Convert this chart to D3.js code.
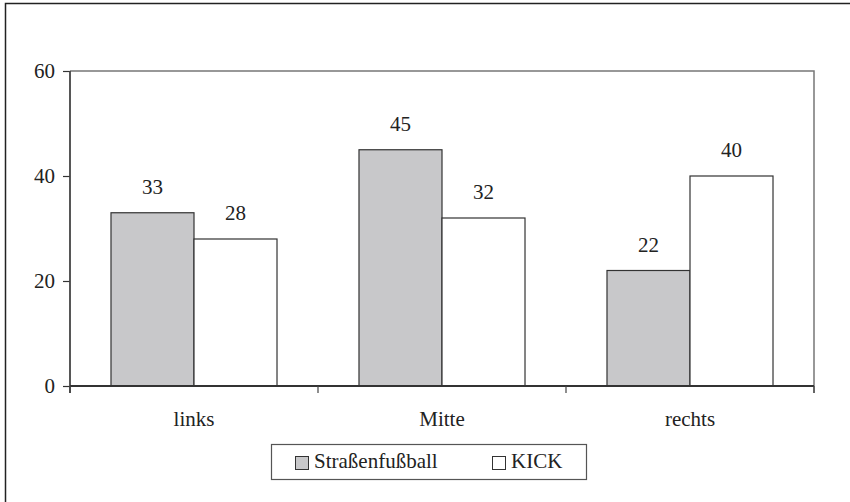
<!DOCTYPE html>
<html>
<head>
<meta charset="utf-8">
<script src="https://cdn.jsdelivr.net/npm/d3@7"></script>
<style>
  html, body { margin: 0; padding: 0; background: #fff; }
  svg { display: block; }
  svg text { fill: #222; }
</style>
</head>
<body>
<svg id="chart" width="850" height="502"></svg>
<script>
// Position categories and the two programmes compared
const categories = ["links", "Mitte", "rechts"];
const seriesNames = ["Straßenfußball", "KICK"];
const strassenfussball = [33, 45, 22];
const kick = [28, 32, 40];
const yTicks = [0, 20, 40, 60];

const seriesValues = [strassenfussball, kick];
const fills = ["#c8c8ca", "#ffffff"];
const FONT = '"Times New Roman", Times, "Liberation Serif", Tinos, serif';
const FS = 21;

const svg = d3.select("#chart");
const W = 850, H = 502;
const plot = { left: 70, right: 814, top: 71, bottom: 386 };

// Outer frame (runs past the right and bottom edges)
svg.append("rect")
  .attr("x", 5.5).attr("y", 3.5)
  .attr("width", W + 10).attr("height", H + 10)
  .attr("fill", "none").attr("stroke", "#222").attr("stroke-width", 1.5);

const y = d3.scaleLinear().domain([0, 60]).range([plot.bottom, plot.top]);
const x0 = d3.scaleBand().domain(categories)
  .range([plot.left, plot.right])
  .paddingInner(0.3306).paddingOuter(0.1653);
const x1 = d3.scaleBand().domain(seriesNames).range([0, x0.bandwidth()]);

// Plot area top and right border
svg.append("path")
  .attr("d", `M${plot.left},${plot.top}H${plot.right}V${plot.bottom + 7}`)
  .attr("fill", "none").attr("stroke", "#777").attr("stroke-width", 1.5);

// Bars with value labels
const barData = (c, i) => seriesNames.map((s, j) => ({ s, j, v: seriesValues[j][i] }));
const groups = svg.append("g").selectAll("g")
  .data(categories).join("g")
  .attr("transform", d => `translate(${x0(d)},0)`);

groups.selectAll("rect")
  .data(barData)
  .join("rect")
  .attr("x", d => x1(d.s))
  .attr("y", d => y(d.v))
  .attr("width", x1.bandwidth())
  .attr("height", d => y(0) - y(d.v))
  .attr("fill", d => fills[d.j])
  .attr("stroke", "#333").attr("stroke-width", 1.2);

groups.selectAll("text.val")
  .data(barData)
  .join("text")
  .attr("class", "val")
  .attr("x", d => x1(d.s) + x1.bandwidth() / 2)
  .attr("y", d => y(d.v) - 19)
  .attr("text-anchor", "middle")
  .attr("font-family", FONT)
  .attr("font-size", FS)
  .text(d => d.v);

// Y axis
const yAxis = svg.append("g")
  .attr("transform", `translate(${plot.left},0)`)
  .call(d3.axisLeft(y).tickValues(yTicks).tickSize(7).tickSizeOuter(0).tickPadding(8));
yAxis.attr("font-family", FONT).attr("font-size", FS);
yAxis.select(".domain").remove();
yAxis.selectAll(".tick line").attr("stroke", "#333").attr("stroke-width", 1.2);
yAxis.selectAll(".tick text").attr("fill", "#222");
svg.append("line")
  .attr("x1", plot.left).attr("x2", plot.left)
  .attr("y1", plot.top).attr("y2", plot.bottom + 7)
  .attr("stroke", "#444").attr("stroke-width", 1.8);

// X axis: baseline, boundary ticks and category labels
svg.append("line")
  .attr("x1", plot.left).attr("x2", plot.right)
  .attr("y1", y(0)).attr("y2", y(0))
  .attr("stroke", "#333").attr("stroke-width", 1.8);
const step = x0.step();
const boundaries = d3.range(categories.length + 1).map(i => plot.left + i * step);
svg.append("g").selectAll("line")
  .data(boundaries).join("line")
  .attr("x1", d => d).attr("x2", d => d)
  .attr("y1", y(0)).attr("y2", y(0) + 7)
  .attr("stroke", "#444").attr("stroke-width", 1.2);
svg.append("g").selectAll("text")
  .data(categories).join("text")
  .attr("x", d => x0(d) + x0.bandwidth() / 2)
  .attr("y", 426)
  .attr("text-anchor", "middle")
  .attr("font-family", FONT)
  .attr("font-size", FS)
  .text(d => d);

// Legend
const legend = svg.append("g");
legend.append("rect")
  .attr("x", 271.5).attr("y", 444.5).attr("width", 315).attr("height", 35)
  .attr("fill", "#fff").attr("stroke", "#555").attr("stroke-width", 1.2);
const legendX = [295, 492];
const items = legend.selectAll("g.item")
  .data(seriesNames).join("g")
  .attr("class", "item")
  .attr("transform", (d, i) => `translate(${legendX[i]},0)`);
items.append("rect")
  .attr("x", 0.5).attr("y", 456.5).attr("width", 13).attr("height", 13)
  .attr("fill", (d, i) => fills[i]).attr("stroke", "#333").attr("stroke-width", 1);
items.append("text")
  .attr("x", 19).attr("y", 468)
  .attr("font-family", FONT)
  .attr("font-size", FS)
  .text(d => d);
</script>
</body>
</html>
